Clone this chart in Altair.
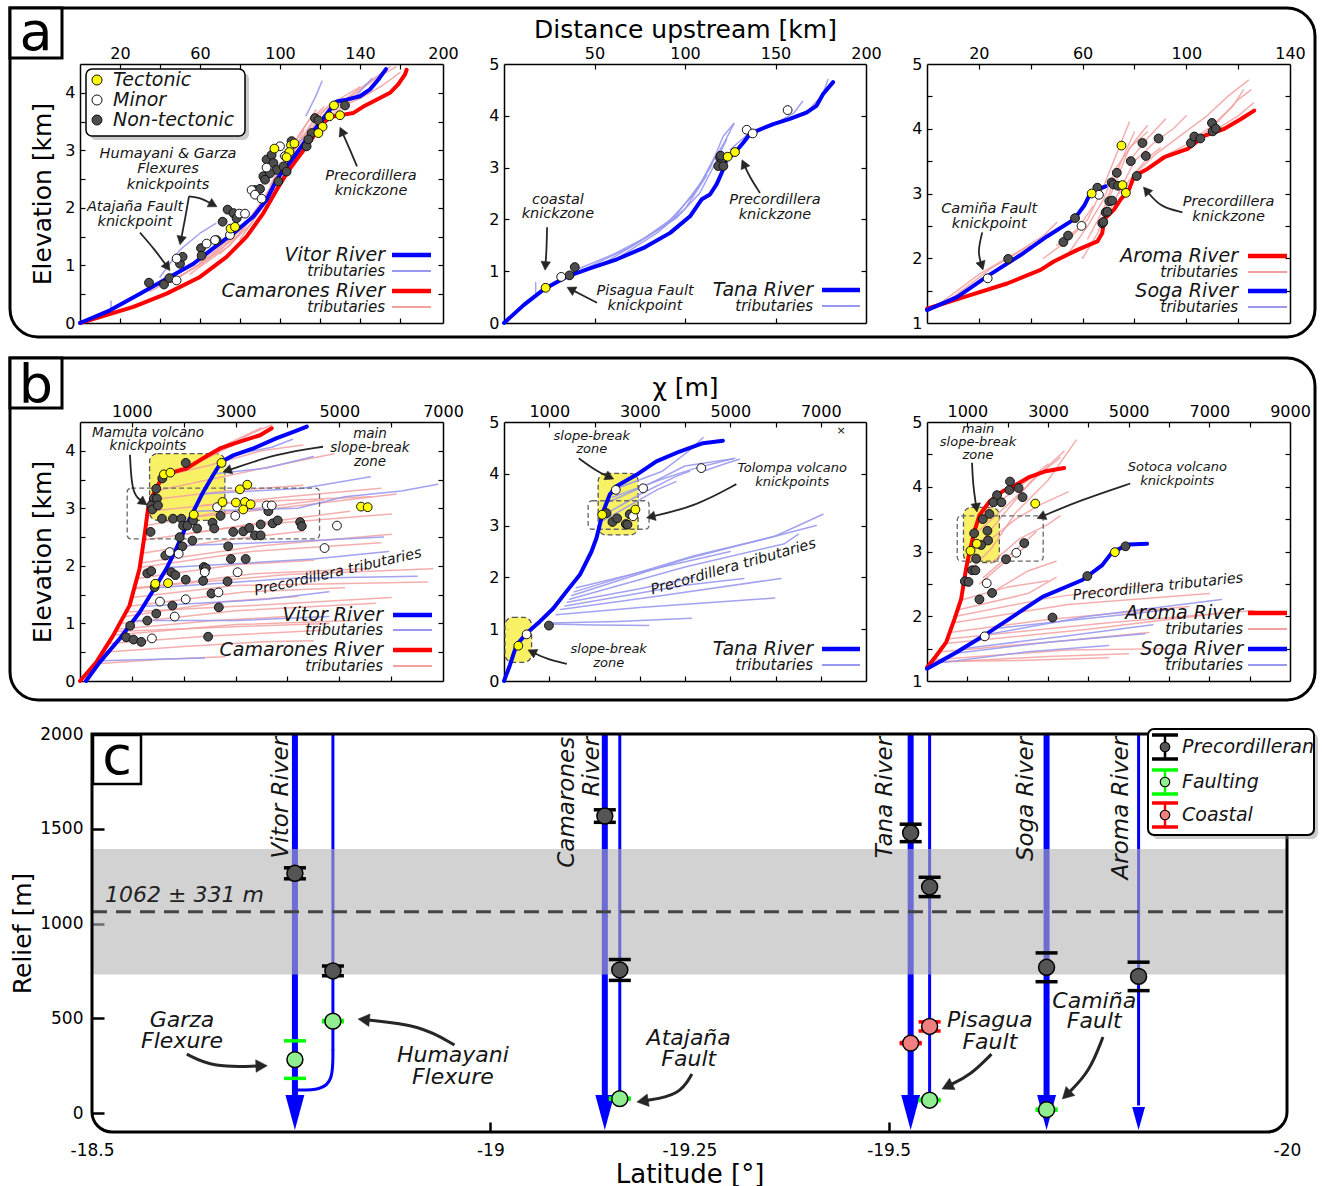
import math
import altair as alt
import pandas as pd

FONT = "DejaVu Sans"
BLUE = "#0000ff"
RED = "#ff0000"
LRED = "#f3a0a0"
LBLUE = "#9898f0"
YEL = "#ffff00"
WHITE = "#ffffff"
DARK = "#4d4d4d"
INK = "#151515"
ARROWC = "#262626"
ZONE = "#f7ef55"
ONE = pd.DataFrame({"k": [0]})

# ======================= DATA =======================
# ---- panel a1: Vitor / Camarones, elevation [km] vs distance upstream [km]
A1_VITOR = [(0, 0), (15, 0.22), (30, 0.51), (43.3, 0.77), (56.7, 1.03), (66.7, 1.30), (76.7, 1.56), (86.7, 1.85),
            (93.3, 2.14), (98.3, 2.49), (103.3, 2.72), (108.3, 2.95), (113.3, 3.19), (120, 3.48), (125, 3.71),
            (128.3, 3.85), (133.3, 3.88), (140, 3.94), (145, 4.06), (149.2, 4.23), (153, 4.41)]
A1_CAMARONES = [(0, 0), (26.7, 0.28), (43.3, 0.51), (60, 0.80), (73.3, 1.15), (83.3, 1.50), (91.7, 1.91),
                (98.3, 2.31), (103.3, 2.60), (108.3, 2.84), (113.3, 3.07), (116.7, 3.24), (120, 3.42), (125, 3.58),
                (131.7, 3.62), (136.7, 3.65), (141.7, 3.76), (148.3, 3.88), (155, 4.0), (159.2, 4.15),
                (162.5, 4.32), (163.3, 4.40)]
A1_RED_TRIBS = [
    [(35, 0.55), (60, 1.0), (80, 1.55), (95, 2.3), (105, 2.9), (115, 3.4), (125, 3.8)],
    [(45, 0.7), (65, 1.15), (85, 1.8), (98, 2.5), (110, 3.15), (120, 3.55)],
    [(55, 0.85), (75, 1.35), (90, 2.0), (102, 2.75), (112, 3.25)],
    [(70, 1.2), (85, 1.7), (100, 2.45), (110, 3.0), (118, 3.45), (128, 3.85)],
    [(60, 1.05), (80, 1.6), (92, 2.15), (104, 2.95), (114, 3.5), (122, 3.75)],
    [(90, 2.05), (100, 2.6), (108, 3.05), (118, 3.6), (130, 3.9), (140, 4.1)],
    [(100, 2.55), (112, 3.2), (125, 3.7), (135, 3.95), (145, 4.2), (155, 4.45)],
    [(118, 3.4), (128, 3.75), (138, 4.0), (148, 4.25), (158, 4.45)],
    [(125, 3.6), (135, 3.85), (145, 4.05), (150, 4.25)],
    [(130, 3.75), (140, 3.9), (150, 4.1), (160, 4.35)],
    [(80, 1.45), (95, 2.2), (105, 2.85), (112, 3.35)],
    [(50, 0.8), (70, 1.25), (88, 1.95), (96, 2.35)],
    [(108, 2.95), (116, 3.25), (122, 3.55)],
    [(95, 2.4), (103, 2.85), (110, 3.3), (118, 3.7)],
]
A1_BLUE_TRIBS = [
    [(15.5, 0.2), (15.5, 0.38)],
    [(40, 0.80), (50, 1.27), (60, 1.56), (68, 1.73)],
    [(113, 3.6), (118, 3.95), (121, 4.2)],
    [(138, 3.95), (142, 4.1), (146, 4.25)],
    [(100, 2.9), (108, 3.1), (115, 3.3)],
]
A1_TECTONIC = [(97.2, 3.03), (105.5, 3.09), (107.2, 3.12), (104.7, 2.97), (103.3, 2.88), (75.3, 1.64), (77.5, 1.67),
               (127, 3.78), (124.7, 3.59), (121.3, 3.41), (119.2, 3.30), (130, 3.61)]
A1_MINOR = [(48.3, 1.12), (48.3, 0.74), (63.3, 1.38), (67.5, 1.44), (75, 1.53), (79.7, 1.90), (82.5, 1.90),
            (85.8, 2.31), (87.5, 2.23), (90.8, 2.16), (93.3, 2.70), (102.5, 2.90), (100, 3.07)]
A1_NONTECTONIC = [(34.5, 0.70), (42, 0.67), (44.7, 0.78), (50, 1.03), (51.3, 1.15), (60.5, 1.30), (60.8, 1.17),
                  (68.3, 1.44), (71.3, 1.76), (73.8, 1.97), (76.7, 1.91), (78.3, 1.82), (87.5, 2.31), (90, 2.33),
                  (91.7, 2.55), (93.3, 2.84), (95.8, 2.92), (96.7, 2.78), (98.3, 2.66), (99.2, 2.46),
                  (101.7, 2.72), (103.3, 2.63), (105.8, 3.16), (113.3, 3.07), (115.8, 3.30), (117.5, 3.56),
                  (119.2, 3.52), (132.5, 3.78), (114.2, 3.19), (95, 2.60), (92.5, 2.49)]
A1_NOTES = [(44, 2.93, "Humayani & Garza"), (44, 2.67, "Flexures"), (44, 2.40, "knickpoints"),
            (27.5, 2.02, "Atajaña Fault"), (27.5, 1.76, "knickpoint"),
            (145.5, 2.56, "Precordillera"), (145.5, 2.30, "knickzone")]
A1_ARROWS = [[(54.5, 2.20), (52.5, 1.80), (50, 1.36)], [(54.5, 2.20), (60, 2.18), (68.5, 2.02)],
             [(30, 1.57), (37.5, 1.27), (45, 0.91)], [(138.5, 2.72), (135, 3.01), (130, 3.40)]]

# ---- panel a2: Tana
A2_TANA = [(0, 0), (11, 0.35), (22, 0.65), (34.9, 0.90), (47.8, 1.06), (62.4, 1.23), (77.1, 1.45), (91.8, 1.74),
           (102.8, 2.06), (109.3, 2.39), (113.8, 2.48), (117.5, 2.68), (120.3, 2.90), (123, 3.16), (127.6, 3.29),
           (132.2, 3.48), (135.9, 3.65), (139.6, 3.71), (148.8, 3.84), (157.9, 3.94), (167.1, 4.06),
           (172.6, 4.19), (176.3, 4.42), (181.8, 4.65)]
A2_BLUE_TRIBS = [
    [(17.5, 0.58), (17.5, 0.78)],
    [(38, 1.0), (60, 1.32), (80, 1.68), (95, 2.02), (108, 2.5), (117, 3.1), (123, 3.55)],
    [(45, 1.05), (70, 1.47), (90, 1.92), (104, 2.45), (114, 3.0), (121, 3.6), (127, 3.85)],
    [(55, 1.15), (75, 1.57), (95, 2.07), (109, 2.72), (117, 3.25)],
    [(125, 3.35), (135, 3.65), (150, 3.85), (160, 4.05), (165, 4.28)],
    [(140, 3.72), (155, 3.9), (168, 4.1), (176, 4.4), (179, 4.7)],
    [(116, 3.15), (122, 3.5), (127, 3.85)],
    [(65, 1.3), (85, 1.75), (100, 2.2), (112, 2.85)],
]
A2_TECTONIC = [(23, 0.68), (123.6, 3.21), (127.6, 3.30)]
A2_MINOR = [(31.6, 0.89), (134.1, 3.73), (137.4, 3.66), (156.7, 4.11)]
A2_NONTECTONIC = [(36.2, 0.92), (39.1, 1.08), (119.4, 3.19), (120.3, 3.10), (118.4, 3.03), (121.2, 3.03),
                  (119.7, 3.23)]
A2_NOTES = [(29.8, 2.37, "coastal"), (29.8, 2.10, "knickzone"), (77.9, 0.62, "Pisagua Fault"),
            (77.9, 0.33, "knickpoint"), (149.7, 2.37, "Precordillera"), (149.7, 2.08, "knickzone")]
A2_ARROWS = [[(23.8, 1.85), (23.5, 1.4), (22.7, 1.02)], [(51.4, 0.39), (43.1, 0.54), (34.8, 0.69)],
             [(141.4, 2.51), (135.4, 2.84), (131.5, 3.15)]]

# ---- panel a3: Aroma / Soga
A3_AROMA = [(0, 1.22), (14.2, 1.40), (30.9, 1.61), (43.8, 1.82), (48.9, 1.95), (58, 2.13), (65.7, 2.26),
            (67.6, 2.39), (68.3, 2.60), (72.1, 2.75), (74.7, 2.91), (77.9, 3.06), (79.9, 3.27), (85, 3.38),
            (91.5, 3.56), (100.5, 3.69), (106.9, 3.89), (114.7, 4.00), (121.1, 4.15), (126.2, 4.28)]
A3_SOGA = [(0, 1.20), (11.6, 1.40), (23.2, 1.72), (36.1, 2.05), (46.4, 2.34), (56.7, 2.60), (60.6, 2.81),
           (63.1, 3.01), (65.7, 3.06), (68.9, 3.11)]
A3_RED_TRIBS = [
    [(5, 1.3), (20, 1.75), (35, 2.1), (45, 2.35), (50, 2.55)],
    [(10, 1.4), (25, 1.85), (40, 2.2)],
    [(45, 2.0), (55, 2.3), (62, 2.6), (68, 3.1), (72, 3.5), (75, 3.8), (78, 4.1)],
    [(55, 2.1), (62, 2.5), (68, 2.9), (73, 3.4), (80, 3.8), (85, 4.05)],
    [(62, 2.3), (68, 2.75), (72, 3.2), (76, 3.6), (80, 3.95)],
    [(70, 2.7), (75, 3.1), (80, 3.5), (88, 3.8), (95, 4.0), (100, 4.2)],
    [(60, 2.0), (66, 2.4), (70, 2.9), (74, 3.3), (78, 3.7), (85, 3.95)],
    [(80, 3.3), (88, 3.6), (98, 3.9), (108, 4.2), (116, 4.5), (124, 4.75)],
    [(90, 3.55), (100, 3.75), (110, 4.05), (118, 4.35), (122, 4.6)],
    [(100, 3.7), (110, 3.95), (120, 4.2), (126, 4.4)],
    [(105, 3.85), (112, 4.1), (120, 4.45), (125, 4.6)],
    [(74, 3.0), (80, 3.3), (85, 3.55), (90, 3.7)],
    [(50, 2.2), (58, 2.45), (64, 2.8)],
    [(78, 3.5), (85, 3.85), (92, 4.15)],
]
A3_TECTONIC = [(75, 3.74), (63.5, 3.0), (75.4, 3.13), (76.7, 3.01)]
A3_MINOR = [(23.4, 1.69), (59.6, 2.50), (66.3, 2.98)]
A3_NONTECTONIC = [(31.3, 1.99), (52.6, 2.25), (54.4, 2.35), (57.1, 2.62), (65.7, 3.09), (67.6, 2.54), (68, 2.56),
                  (68.9, 2.71), (69.6, 2.72), (70.3, 2.88), (71.4, 2.89), (71.2, 3.17), (71.9, 3.14), (73.2, 3.32),
                  (73.7, 3.12), (78.6, 3.50), (80.9, 3.27), (83.1, 3.78), (84.4, 3.58), (89.3, 3.85),
                  (101.8, 3.78), (103.1, 3.88), (105.4, 3.85), (109.9, 4.09), (110.2, 3.96), (111.4, 4.0)]
A3_NOTES = [(24, 2.76, "Camiña Fault"), (24, 2.53, "knickpoint"), (116.3, 2.87, "Precordillera"),
            (116.3, 2.63, "knickzone")]
A3_ARROWS = [[(21.3, 2.40), (19.5, 2.1), (21.6, 1.82)], [(98.5, 2.71), (90, 2.79), (83.5, 3.10)]]

# ---- panel b1: chi plots
B1_CAMARONES = [(0, 0), (310, 0.32), (632, 0.78), (955, 1.31), (1148, 1.95), (1245, 2.53), (1310, 2.99),
                (1406, 3.23), (1503, 3.40), (1600, 3.58), (1794, 3.63), (2052, 3.69), (2374, 3.87), (2697, 4.04),
                (3084, 4.16), (3471, 4.27), (3697, 4.39)]
B1_VITOR = [(116, 0), (374, 0.32), (761, 0.73), (1148, 1.19), (1471, 1.66), (1665, 1.95), (1858, 2.30),
            (2052, 2.70), (2245, 3.05), (2374, 3.28), (2568, 3.58), (2729, 3.81), (2955, 3.92), (3342, 4.04),
            (3794, 4.22), (4116, 4.33), (4374, 4.42)]
B1_RED_TRIBS = [
    [(320, 0.3), (1600, 0.38), (2800, 0.42)], [(450, 0.5), (2000, 0.6), (3500, 0.68), (4500, 0.7)],
    [(560, 0.65), (2500, 0.78), (4700, 0.88)], [(650, 0.8), (3000, 0.98), (5300, 1.05)],
    [(720, 0.9), (2600, 1.05), (4000, 1.12)], [(800, 1.0), (3000, 1.22), (5700, 1.35)],
    [(870, 1.12), (2800, 1.38), (4200, 1.47)], [(950, 1.3), (3200, 1.55), (5100, 1.62)],
    [(1000, 1.45), (3000, 1.66), (6700, 1.72)], [(1050, 1.6), (3300, 1.86), (5500, 1.95)],
    [(1100, 1.78), (3000, 2.02), (4500, 2.1)], [(1150, 1.97), (3300, 2.25), (5800, 2.4)],
    [(1200, 2.22), (2800, 2.45), (4300, 2.6)], [(1240, 2.45), (3200, 2.7), (6000, 2.9)],
    [(1280, 2.7), (2500, 2.9), (4700, 3.15)], [(1310, 2.95), (3000, 3.1), (5600, 3.2)],
    [(1380, 3.15), (2800, 3.3), (4300, 3.4)], [(1450, 3.3), (2500, 3.5), (3800, 3.75), (4900, 3.95)],
    [(1550, 3.55), (2500, 3.75), (3500, 4.0), (4300, 4.1)], [(1800, 3.63), (2600, 3.95), (3300, 4.3), (3700, 4.45)],
    [(1650, 3.6), (2400, 3.85), (3000, 4.12)], [(2050, 3.7), (2800, 4.1), (3500, 4.4)],
    [(1160, 2.05), (3500, 2.35), (6000, 2.55)], [(1050, 1.62), (4000, 1.85), (6800, 1.95)],
    [(900, 1.2), (3500, 1.32), (6000, 1.45)], [(700, 0.86), (3200, 0.95), (4800, 1.0)],
    [(2000, 2.55), (3500, 2.75), (5200, 2.95)], [(2200, 2.85), (3800, 3.0), (6100, 3.25)],
    [(2350, 3.05), (4000, 3.2), (5800, 3.35)],
]
B1_BLUE_TRIBS = [
    [(400, 0.35), (1500, 0.38), (2400, 0.4)], [(1050, 1.05), (3000, 1.05), (4800, 1.12)],
    [(1450, 1.62), (4000, 1.78), (6500, 1.82)], [(1700, 1.97), (4500, 2.12), (5950, 2.25)],
    [(1900, 2.35), (4000, 2.42), (5850, 2.5)], [(2200, 2.95), (4200, 3.0), (5100, 3.2), (6200, 3.3), (6900, 3.42)],
    [(2350, 3.25), (4300, 3.35), (5600, 3.55)], [(2900, 3.92), (3700, 4.06), (4100, 4.2)],
    [(2600, 3.6), (3600, 3.7), (4500, 3.9)], [(1250, 1.3), (3600, 1.42), (4800, 1.55)],
]
B1_ZONE = [(1342, 2794, 2.79, 3.95)]
B1_DASH = [(910, 4619, 2.47, 3.35)]
B1_TECTONIC = [(1619, 3.59), (1742, 3.62), (2729, 3.79), (2194, 2.89), (2748, 3.11), (3084, 3.33), (3226, 3.41),
               (3006, 3.10), (3181, 3.11), (3290, 3.07), (3148, 2.98), (5419, 3.03), (5548, 3.02), (1452, 1.69),
               (1697, 1.70)]
B1_MINOR = [(2645, 3.02), (2994, 2.87), (3600, 3.05), (3697, 3.05), (4955, 2.70), (4716, 2.31), (1729, 2.24),
            (1903, 2.21), (2406, 1.89), (3039, 1.89), (1542, 1.38), (2039, 1.42), (2671, 1.54), (1826, 1.12),
            (1387, 0.74)]
B1_NONTECTONIC = [(2039, 3.79), (1587, 3.52), (1471, 3.34), (1426, 3.17), (1484, 3.17), (1374, 3.05), (1394, 2.98),
                  (1503, 3.05), (1361, 2.59), (1581, 2.82), (1794, 2.82), (1955, 2.82), (1987, 2.70), (2071, 2.70),
                  (2181, 2.79), (2258, 2.65), (2168, 2.44), (1923, 2.50), (1974, 2.34), (2555, 2.75), (2587, 2.65),
                  (2710, 2.87), (2955, 2.59), (3148, 2.60), (3265, 2.66), (3374, 2.53), (3484, 2.53), (3484, 2.72),
                  (3632, 2.95), (3716, 2.74), (3813, 2.79), (4245, 2.76), (4277, 2.69), (2858, 2.34), (2910, 2.12),
                  (3194, 2.12), (1645, 2.18), (1297, 1.87), (1374, 1.91), (1761, 1.89), (1839, 1.84), (2387, 1.98),
                  (2426, 1.96), (2039, 1.76), (2374, 1.74), (2845, 1.73), (1439, 1.63), (2535, 1.52), (1781, 1.31),
                  (1471, 1.17), (1297, 1.05), (2677, 1.28), (968, 0.96), (890, 0.76), (1032, 0.72), (1181, 0.68),
                  (2471, 0.77)]
B1_NOTES = [(1311, 4.31, "Mamuta volcano"), (1311, 4.08, "knickpoints"), (5592, 4.29, "main"),
            (5592, 4.05, "slope-break"), (5592, 3.81, "zone")]
B1_TILTED = [(4975, 1.89, "Precordillera tributaries")]
B1_ARROWS = [[(964, 3.93), (1000, 3.25), (1292, 3.06)], [(4686, 4.07), (3800, 3.95), (2757, 3.63)]]

# ---- panel b2: Tana chi
B2_TANA = [(0, 0), (132, 0.31), (279, 0.70), (500, 0.92), (794, 1.15), (1088, 1.40), (1382, 1.73), (1676, 2.05),
           (1860, 2.37), (1934, 2.50), (2044, 2.76), (2118, 3.02), (2191, 3.27), (2338, 3.60), (2485, 3.76),
           (2926, 3.98), (3368, 4.24), (3882, 4.43), (4397, 4.59), (4838, 4.64)]
B2_BLUE_TRIBS = [
    [(1000, 1.1), (2000, 1.08), (3200, 1.07)], [(1050, 1.12), (2500, 1.15), (4140, 1.21)],
    [(1150, 1.28), (3000, 1.42), (5980, 1.6)], [(1250, 1.38), (3500, 1.65), (6120, 1.98)],
    [(1350, 1.45), (4000, 1.85), (5300, 1.98)], [(1400, 1.52), (3000, 1.78), (4200, 2.0)],
    [(1450, 1.58), (4000, 2.2), (6200, 2.65), (6500, 2.83)], [(1500, 1.65), (4000, 2.35), (6000, 2.8), (7050, 3.22)],
    [(1550, 1.72), (4200, 2.42), (5800, 2.75), (6900, 3.0)], [(1600, 1.8), (3500, 2.2), (5000, 2.5)],
    [(2200, 3.2), (3000, 3.6), (3800, 3.95), (4100, 4.05)], [(2300, 3.45), (3200, 3.8), (4000, 4.15), (5060, 4.29)],
    [(2400, 3.55), (3500, 3.9), (4200, 4.1), (5100, 4.3)], [(2500, 3.72), (3500, 4.05), (4100, 4.45), (4400, 4.7)],
    [(2200, 3.1), (2800, 3.4), (3400, 3.7), (3800, 3.85)], [(4400, 4.05), (4900, 4.2), (5200, 4.28)],
]
B2_ZONE = [(2081, 2963, 2.82, 4.01), (22, 610, 0.36, 1.23)]
B2_DASH = [(1860, 3206, 2.93, 3.48)]
B2_TECTONIC = [(316, 0.68), (2169, 3.21), (2904, 3.31)]
B2_MINOR = [(500, 0.90), (2471, 3.69), (3074, 3.72), (2853, 3.18), (4360, 4.11)]
B2_NONTECTONIC = [(993, 1.07), (2265, 3.24), (2397, 3.07), (2500, 3.14), (2691, 3.03), (2728, 3.02), (2779, 3.22)]
B2_NOTES = [(1939, 4.73, "slope-break"), (1939, 4.47, "zone"), (6368, 4.11, "Tolompa volcano"),
            (6368, 3.84, "knickpoints"), (2314, 0.61, "slope-break"), (2314, 0.34, "zone")]
B2_TILTED = [(5068, 2.20, "Precordillera tributaries")]
B2_ARROWS = [[(1653, 4.30), (2049, 4.05), (2424, 3.90)], [(5134, 3.80), (4253, 3.38), (3151, 3.15)],
             [(1388, 0.33), (950, 0.42), (530, 0.60)]]
B2_MARK = [(7448, 4.83, "×")]

# ---- panel b3: Aroma / Soga chi
B3_AROMA = [(0, 1.21), (230, 1.39), (477, 1.60), (683, 1.96), (848, 2.27), (971, 2.74), (1053, 2.99),
            (1177, 3.31), (1300, 3.56), (1547, 3.77), (1876, 3.93), (2206, 4.03), (2535, 4.15), (2946, 4.24),
            (3399, 4.29)]
B3_SOGA = [(0, 1.19), (724, 1.44), (1383, 1.69), (2041, 1.96), (2864, 2.30), (3852, 2.56), (4345, 2.79),
           (4592, 2.99), (5004, 3.11), (5457, 3.12)]
B3_RED_TRIBS = [
    [(100, 1.28), (3000, 1.38), (5000, 1.42)], [(200, 1.33), (3500, 1.48), (6000, 1.5)],
    [(350, 1.45), (3000, 1.6), (5500, 1.75)], [(450, 1.58), (4000, 1.8), (7300, 2.05)],
    [(550, 1.75), (3000, 1.95), (6500, 2.15)], [(650, 1.9), (3500, 2.18), (7000, 2.35)],
    [(720, 2.0), (3000, 2.28), (5600, 2.5)], [(780, 2.1), (2500, 2.35), (3200, 2.6)],
    [(850, 2.25), (2000, 2.45), (3000, 2.55)], [(150, 1.3), (2500, 1.32), (4500, 1.36)],
    [(500, 1.65), (4500, 1.9), (8100, 2.09)],
    [(1050, 2.7), (1600, 3.05), (2200, 3.6), (3000, 4.1), (3700, 4.72)],
    [(1150, 3.0), (1800, 3.5), (2600, 4.1), (3300, 4.45)], [(1250, 3.3), (2000, 3.72), (2800, 4.2), (3400, 4.55)],
    [(1400, 3.6), (2200, 3.95), (3000, 4.35)], [(1500, 3.15), (2200, 3.5), (2800, 3.72), (3500, 3.92)],
    [(1600, 2.82), (2300, 3.2), (3000, 3.42), (3300, 3.55)], [(1400, 2.6), (2000, 2.92), (2700, 3.3)],
    [(1700, 2.4), (2500, 2.7), (3200, 2.85)], [(1300, 2.5), (1900, 2.82), (2500, 3.1)],
]
B3_BLUE_TRIBS = [
    [(600, 1.42), (3000, 1.6), (5400, 1.73)], [(900, 1.5), (3500, 1.7), (5600, 1.87)],
    [(1500, 1.72), (4000, 2.0), (7300, 2.26)], [(1800, 1.82), (4500, 2.0), (6000, 2.1)],
    [(300, 1.28), (2500, 1.45), (4500, 1.55)],
]
B3_ZONE = [(905, 1794, 2.83, 3.68)]
B3_DASH = [(749, 2881, 2.85, 3.55)]
B3_TECTONIC = [(1078, 3.01), (1235, 3.12), (2683, 3.74), (4658, 2.99)]
B3_MINOR = [(1481, 2.51), (2214, 2.98), (1432, 1.69)]
B3_NONTECTONIC = [(2058, 4.08), (2041, 3.95), (2271, 3.98), (2370, 3.84), (1737, 3.87), (1646, 3.76), (1844, 3.76),
                  (1383, 3.50), (1547, 3.58), (1498, 3.32), (1169, 3.28), (1514, 3.17), (1342, 3.10), (1218, 2.89),
                  (1119, 2.71), (1201, 2.71), (938, 2.54), (1029, 2.53), (1300, 2.26), (1613, 2.36), (1959, 2.88),
                  (2411, 3.13), (3111, 1.98), (3975, 2.62), (4921, 3.08)]
B3_NOTES = [(1265, 4.89, "main"), (1265, 4.69, "slope-break"), (1265, 4.49, "zone"),
            (6206, 4.31, "Sotoca volcano"), (6206, 4.09, "knickpoints")]
B3_TILTED = [(5728, 2.45, "Precordillera tributaries")]
B3_ARROWS = [[(1116, 4.37), (1142, 4.02), (1240, 3.61)], [(5039, 4.05), (3798, 3.79), (2731, 3.51)]]

# ---- panel c: relief [m] vs latitude [deg]
C_MAIN_LAT = [-18.7547, -19.1437, -19.5276, -19.6982]          # Vitor, Camarones, Tana, Soga
C_TRIB_LAT = [-18.8024, -19.1625, -19.5514, -19.8137]          # Vitor trib., Camarones trib., Tana trib., Aroma
C_TRIB_BOTTOM = [330, 76, 68, 40]
C_TOP = 2000
C_MAIN_BOTTOM = 80
C_VITOR_LINK = [(-18.8024, 332), (-18.8024, 170), (-18.787, 122), (-18.7572, 121)]
C_PRECORD = [(-18.7547, 1265, 29), (-18.8024, 750, 26), (-19.1437, 1567, 33), (-19.1625, 755, 55),
             (-19.5276, 1478, 46), (-19.5514, 1193, 51), (-19.6982, 769, 76), (-19.8137, 721, 75)]
C_FAULT = [(-18.7547, 282, 99), (-18.8024, 485, 3), (-19.1625, 76, 3), (-19.5514, 68, 3), (-19.6982, 18, 3)]
C_COASTAL = [(-19.5276, 369, 3), (-19.5514, 457, 24)]
C_MEAN, C_STD = 1062, 331
C_RIVER_LABELS = [(-18.737, "Vitor River"), (-19.096, "Camarones"), (-19.127, "River"),
                  (-19.496, "Tana River"), (-19.673, "Soga River"), (-19.792, "Aroma River")]
C_NOTES = [(-18.613, 491, "Garza"), (-18.613, 380, "Flexure"), (-18.953, 306, "Humayani"),
           (-18.953, 190, "Flexure"), (-19.249, 396, "Atajaña"), (-19.249, 285, "Fault"),
           (-19.627, 491, "Pisagua"), (-19.627, 375, "Fault"), (-19.758, 591, "Camiña"), (-19.758, 485, "Fault")]
C_ARROWS = [[(-18.619, 311), (-18.652, 240), (-18.72, 250)], [(-18.955, 359), (-18.912, 464), (-18.834, 496)],
            [(-19.253, 206), (-19.238, 95), (-19.184, 58)], [(-19.629, 311), (-19.603, 201), (-19.567, 127)],
            [(-19.769, 401), (-19.752, 216), (-19.718, 74)]]
C_XLABELS = [-18.5, -19, -19.25, -19.5, -20]
C_YLABELS = [0, 500, 1000, 1500, 2000]

ARROW_HEAD = "M0,0L-0.55,1L0.55,1Z"


# ======================= HELPERS =======================
class P:
    def __init__(self, w, h, xd, yd):
        self.w, self.h, self.xd, self.yd = w, h, xd, yd
        self.xs = alt.Scale(domain=list(xd), nice=False, zero=False)
        self.ys = alt.Scale(domain=list(yd), nice=False, zero=False)
        self.kx = w / (xd[1] - xd[0])
        self.ky = h / (yd[1] - yd[0])

    def X(self, f="x"):
        return alt.X(f"{f}:Q", scale=self.xs, axis=None)

    def Y(self, f="y"):
        return alt.Y(f"{f}:Q", scale=self.ys, axis=None)


def lines_df(lines):
    rows = []
    for i, pts in enumerate(lines):
        for j, (x, y) in enumerate(pts):
            rows.append({"id": i, "o": j, "x": x, "y": y})
    return pd.DataFrame(rows)


def line_layer(p, lines, color, width, opacity=1.0, interp="linear"):
    return alt.Chart(lines_df(lines)).mark_line(
        color=color, strokeWidth=width, opacity=opacity, interpolate=interp,
        strokeJoin="round", strokeCap="round").encode(x=p.X(), y=p.Y(), detail="id:N", order="o:Q")


def pts_layer(p, data, fill, size=78):
    df = pd.DataFrame(data, columns=["x", "y"])
    return alt.Chart(df).mark_circle(fill=fill, stroke="#111111", strokeWidth=1, size=size, opacity=1).encode(
        x=p.X(), y=p.Y())


def knick_layers(p, tect, minor, nont):
    return [pts_layer(p, nont, DARK), pts_layer(p, minor, WHITE), pts_layer(p, tect, YEL)]


def notes(p, items, size=14.5, angle=0):
    df = pd.DataFrame(items, columns=["x", "y", "t"])
    return alt.Chart(df).mark_text(font=FONT, fontSize=size, fontStyle="italic", align="center",
                                   baseline="middle", angle=angle, color=INK).encode(x=p.X(), y=p.Y(), text="t:N")


def arrows(p, arrs, width=1.8, head=300):
    rows, heads = [], []
    L = math.sqrt(head) / 2.0
    for i, pts in enumerate(arrs):
        (x0, y0), (x1, y1) = pts[-2], pts[-1]
        dx = (x1 - x0) * p.kx
        dy = -(y1 - y0) * p.ky
        n = math.hypot(dx, dy) or 1.0
        ux, uy = dx / n, dy / n
        ang = math.degrees(math.atan2(dx, -dy)) % 360
        back = 0.7 * L
        end = (x1 - ux * back / p.kx, y1 + uy * back / p.ky)
        path = list(pts[:-1]) + [end]
        for j, (x, y) in enumerate(path):
            rows.append({"id": i, "o": j, "x": x, "y": y})
        heads.append({"x": x1, "y": y1, "a": ang})
    line = alt.Chart(pd.DataFrame(rows)).mark_line(color=ARROWC, strokeWidth=width, interpolate="basis").encode(
        x=p.X(), y=p.Y(), detail="id:N", order="o:Q")
    hd = alt.Chart(pd.DataFrame(heads)).mark_point(shape=ARROW_HEAD, filled=True, fill=ARROWC, stroke=ARROWC,
                                                   strokeWidth=0.5, size=head, opacity=1).encode(
        x=p.X(), y=p.Y(), angle=alt.Angle("a:Q", scale=None))
    return [line, hd]


def box_layer(p, boxes, fill, fill_op, stroke, radius):
    df = pd.DataFrame(boxes, columns=["x", "x2", "y", "y2"])
    return alt.Chart(df).mark_rect(fill=fill, fillOpacity=fill_op, stroke=stroke, strokeWidth=1.3,
                                   strokeDash=[5, 3], cornerRadius=radius).encode(
        x=p.X("x"), x2="x2:Q", y=p.Y("y"), y2="y2:Q")


def pix_rect(x, x2, y, y2, **kw):
    return alt.Chart(ONE).mark_rect(**kw).encode(x=alt.value(x), x2=alt.value(x2), y=alt.value(y), y2=alt.value(y2))


def pix_text(x, y, text, **kw):
    return alt.Chart(ONE).mark_text(text=text, **kw).encode(x=alt.value(x), y=alt.value(y))


def pix_hline(x, x2, y, **kw):
    return alt.Chart(ONE).mark_rule(**kw).encode(x=alt.value(x), x2=alt.value(x2), y=alt.value(y))


def pix_vline(x, y, y2, **kw):
    return alt.Chart(ONE).mark_rule(**kw).encode(x=alt.value(x), y=alt.value(y), y2=alt.value(y2))


def pix_dot(x, y, **kw):
    return alt.Chart(ONE).mark_circle(**kw).encode(x=alt.value(x), y=alt.value(y))


def river_legend(x_text, x0, x1, entries):
    out = []
    for y, t, big, col in entries:
        out.append(pix_text(x_text, y, t, font=FONT, fontSize=19 if big else 15, fontStyle="italic",
                            align="right", baseline="middle", color=INK))
        out.append(pix_hline(x0, x1, y, color=col, strokeWidth=4.5 if big else 1.8))
    return out


def kp_legend():
    out = [pix_rect(10, 169, 9, 76, fill="#8c8c8c", opacity=0.45, cornerRadius=6),
           pix_rect(6, 165, 5, 72, fill="white", stroke="black", strokeWidth=1.5, cornerRadius=6)]
    for y, col, lab in [(16, YEL, "Tectonic"), (36, WHITE, "Minor"), (56, DARK, "Non-tectonic")]:
        out.append(pix_dot(17, y, fill=col, stroke="#111111", strokeWidth=1, size=100, opacity=1))
        out.append(pix_text(33, y, lab, font=FONT, fontSize=19, fontStyle="italic", align="left",
                            baseline="middle", color=INK))
    return out


def axis_layers(p, xlab, xtk, ylab, ytk, ytitle=None, xtitle=None,
                xexpr="format(datum.value, 'd')", lab_size=16, tick=5):
    d = pd.DataFrame({"x": [p.xd[0]], "y": [p.yd[0]]})
    base = alt.Chart(d).mark_point(opacity=0)
    xl = dict(orient="top", values=xlab, ticks=False, domain=False, labelFontSize=lab_size, labelPadding=3,
              labelFlush=False, labelOverlap=False, labelExpr=xexpr, grid=False, title=xtitle)
    if xtitle:
        xl.update(titleFontSize=25, titleFontWeight="normal", titlePadding=3)
    yl = dict(orient="left", values=ylab, ticks=False, domain=False, labelFontSize=lab_size, labelPadding=5,
              labelFlush=False, labelOverlap=False, format="d", grid=False, title=ytitle)
    if ytitle:
        yl.update(titleFontSize=25, titleFontWeight="normal", titlePadding=9)
    lab = base.encode(x=alt.X("x:Q", scale=p.xs, axis=alt.Axis(**xl)),
                      y=alt.Y("y:Q", scale=p.ys, axis=alt.Axis(**yl)))
    b1 = base.encode(
        x=alt.X("x:Q", scale=p.xs, axis=alt.Axis(orient="bottom", offset=-p.h, values=xtk, labels=False,
                                                 tickSize=tick, domain=True, grid=False, title=None)),
        y=alt.Y("y:Q", scale=p.ys, axis=alt.Axis(orient="right", offset=-p.w, values=ytk, labels=False,
                                                 tickSize=tick, domain=True, grid=False, title=None)))
    b2 = base.encode(
        x=alt.X("x:Q", scale=p.xs, axis=alt.Axis(orient="top", offset=-p.h, values=xtk, labels=False,
                                                 tickSize=tick, domain=True, grid=False, title=None)),
        y=alt.Y("y:Q", scale=p.ys, axis=alt.Axis(orient="left", offset=-p.w, values=ytk, labels=False,
                                                 tickSize=tick, domain=True, grid=False, title=None)))
    return [lab, b1, b2]


def panel(p, layers):
    return alt.layer(*layers).resolve_axis(x="independent", y="independent").properties(width=p.w, height=p.h)


def row_frame(top, bottom, label, label_y):
    return [pix_rect(-80, 1242, -64, 292, opacity=0),
            pix_rect(-70, 1235, top, bottom, fill="white", fillOpacity=0, stroke="black", strokeWidth=3,
                     cornerRadius=28, cornerRadiusTopLeft=0),
            pix_rect(-70, -18, top, top + 50, fill="white", stroke="black", strokeWidth=3),
            pix_text(-44, label_y, label, font=FONT, fontSize=54, align="center", baseline="middle",
                     color="black")]


# ======================= ROW a =======================
pa1 = P(363, 259, [0, 181.5], [0, 4.5])
a1 = panel(pa1, row_frame(-56, 273, "a", -30) + [
    line_layer(pa1, A1_RED_TRIBS, LRED, 1.5, 0.85),
    line_layer(pa1, A1_BLUE_TRIBS, LBLUE, 1.5, 0.9),
    line_layer(pa1, [A1_CAMARONES], RED, 4),
    line_layer(pa1, [A1_VITOR], BLUE, 4),
    *knick_layers(pa1, A1_TECTONIC, A1_MINOR, A1_NONTECTONIC),
    notes(pa1, A1_NOTES),
    *arrows(pa1, A1_ARROWS),
    *kp_legend(),
    *river_legend(305, 312, 351, [(191, "Vitor River", True, BLUE), (207, "tributaries", False, LBLUE),
                                  (227, "Camarones River", True, RED), (243, "tributaries", False, LRED)]),
    *axis_layers(pa1, [20, 60, 100, 140, 181.5], [20, 40, 60, 80, 100, 120, 140, 160], [0, 1, 2, 3, 4],
                 [0.5, 1, 1.5, 2, 2.5, 3, 3.5, 4], ytitle="Elevation  [km]",
                 xexpr="datum.value > 180 ? '200' : format(datum.value, 'd')"),
])

pa2 = P(362, 259, [0, 200], [0, 5])
a2 = panel(pa2, [
    line_layer(pa2, A2_BLUE_TRIBS, LBLUE, 1.5, 0.9),
    line_layer(pa2, [A2_TANA], BLUE, 4),
    *knick_layers(pa2, A2_TECTONIC, A2_MINOR, A2_NONTECTONIC),
    notes(pa2, A2_NOTES),
    *arrows(pa2, A2_ARROWS),
    *river_legend(309, 318, 356, [(226, "Tana River", True, BLUE), (242, "tributaries", False, LBLUE)]),
    *axis_layers(pa2, [50, 100, 150, 200], [50, 100, 150], [0, 1, 2, 3, 4, 5], [1, 2, 3, 4],
                 xtitle="Distance upstream [km]"),
])

pa3 = P(363, 259, [0, 140], [1, 5])
a3 = panel(pa3, [
    line_layer(pa3, A3_RED_TRIBS, LRED, 1.5, 0.85),
    line_layer(pa3, [A3_AROMA], RED, 4),
    line_layer(pa3, [A3_SOGA], BLUE, 4),
    *knick_layers(pa3, A3_TECTONIC, A3_MINOR, A3_NONTECTONIC),
    notes(pa3, A3_NOTES),
    *arrows(pa3, A3_ARROWS),
    *river_legend(311, 321, 360, [(192, "Aroma River", True, RED), (208, "tributaries", False, LRED),
                                  (227, "Soga River", True, BLUE), (243, "tributaries", False, LBLUE)]),
    *axis_layers(pa3, [20, 60, 100, 140], [20, 40, 60, 80, 100, 120], [1, 2, 3, 4, 5],
                 [1.5, 2, 2.5, 3, 3.5, 4, 4.5]),
])

# ======================= ROW b =======================
pb1 = P(363, 259, [0, 7000], [0, 4.5])
b1 = panel(pb1, row_frame(-64, 278, "b", -35) + [
    box_layer(pb1, B1_ZONE, ZONE, 0.9, "#555555", 8),
    line_layer(pb1, B1_RED_TRIBS, LRED, 1.5, 0.85),
    line_layer(pb1, B1_BLUE_TRIBS, LBLUE, 1.5, 0.9),
    box_layer(pb1, B1_DASH, "white", 0, "#666666", 4),
    line_layer(pb1, [B1_CAMARONES], RED, 4),
    line_layer(pb1, [B1_VITOR], BLUE, 4),
    *knick_layers(pb1, B1_TECTONIC, B1_MINOR, B1_NONTECTONIC),
    notes(pb1, B1_NOTES, size=13.5),
    notes(pb1, B1_TILTED, size=14.5, angle=347),
    *arrows(pb1, B1_ARROWS),
    *river_legend(303, 313, 352, [(193, "Vitor River", True, BLUE), (208, "tributaries", False, LBLUE),
                                  (228, "Camarones River", True, RED), (244, "tributaries", False, LRED)]),
    *axis_layers(pb1, [1000, 3000, 5000, 7000], [1000, 2000, 3000, 4000, 5000, 6000], [0, 1, 2, 3, 4],
                 [0.5, 1, 1.5, 2, 2.5, 3, 3.5, 4], ytitle="Elevation  [km]"),
])

pb2 = P(362, 259, [0, 8000], [0, 5])
b2 = panel(pb2, [
    box_layer(pb2, B2_ZONE, ZONE, 0.9, "#555555", 8),
    line_layer(pb2, B2_BLUE_TRIBS, LBLUE, 1.5, 0.9),
    box_layer(pb2, B2_DASH, "white", 0, "#666666", 4),
    line_layer(pb2, [B2_TANA], BLUE, 4),
    *knick_layers(pb2, B2_TECTONIC, B2_MINOR, B2_NONTECTONIC),
    notes(pb2, B2_NOTES, size=13),
    notes(pb2, B2_TILTED, size=14.5, angle=344),
    notes(pb2, B2_MARK, size=11),
    *arrows(pb2, B2_ARROWS),
    *river_legend(309, 318, 356, [(227, "Tana River", True, BLUE), (243, "tributaries", False, LBLUE)]),
    *axis_layers(pb2, [1000, 3000, 5000, 7000], [1000, 2000, 3000, 4000, 5000, 6000, 7000],
                 [0, 1, 2, 3, 4, 5], [1, 2, 3, 4], xtitle="χ [m]"),
])

pb3 = P(363, 259, [0, 9000], [1, 5])
b3 = panel(pb3, [
    box_layer(pb3, B3_ZONE, ZONE, 0.9, "#555555", 8),
    line_layer(pb3, B3_RED_TRIBS, LRED, 1.5, 0.85),
    line_layer(pb3, B3_BLUE_TRIBS, LBLUE, 1.5, 0.9),
    box_layer(pb3, B3_DASH, "white", 0, "#666666", 4),
    line_layer(pb3, [B3_AROMA], RED, 4),
    line_layer(pb3, [B3_SOGA], BLUE, 4),
    *knick_layers(pb3, B3_TECTONIC, B3_MINOR, B3_NONTECTONIC),
    notes(pb3, B3_NOTES, size=13),
    notes(pb3, B3_TILTED, size=14.5, angle=354),
    *arrows(pb3, B3_ARROWS),
    *river_legend(316, 321, 360, [(191, "Aroma River", True, RED), (207, "tributaries", False, LRED),
                                  (227, "Soga River", True, BLUE), (243, "tributaries", False, LBLUE)]),
    *axis_layers(pb3, [1000, 3000, 5000, 7000, 9000], [1000, 2000, 3000, 4000, 5000, 6000, 7000, 8000],
                 [1, 2, 3, 4, 5], [1.5, 2, 2.5, 3, 3.5, 4, 4.5]),
])

# ======================= ROW c =======================
# the view starts 12 px left of the -18.5 border so that all three rows share the same left origin
C_PAD = 12
C_PX_PER_DEG = 1195 / 1.5
pc = P(1195 + C_PAD, 398, [-18.5 + C_PAD / C_PX_PER_DEG, -20], [-100, 2000])

main_df = pd.DataFrame({"x": C_MAIN_LAT, "top": C_TOP, "bot": C_MAIN_BOTTOM})
trib_df = pd.DataFrame({"x": C_TRIB_LAT, "top": C_TOP, "bot": C_TRIB_BOTTOM})
main_lines = alt.Chart(main_df).mark_rule(color=BLUE, strokeWidth=6).encode(x=pc.X(), y=pc.Y("top"), y2="bot:Q")
trib_lines = alt.Chart(trib_df).mark_rule(color=BLUE, strokeWidth=3).encode(x=pc.X(), y=pc.Y("top"), y2="bot:Q")
link = line_layer(pc, [C_VITOR_LINK], BLUE, 3, 1.0, "basis")
heads_big = alt.Chart(pd.DataFrame({"x": C_MAIN_LAT, "y": 3})).mark_point(
    shape="M-0.54,-1L0.54,-1L0,1Z", filled=True, fill=BLUE, strokeWidth=0, size=1225, opacity=1).encode(
    x=pc.X(), y=pc.Y())
heads_small = alt.Chart(pd.DataFrame({"x": [C_TRIB_LAT[-1]], "y": [-29]})).mark_point(
    shape="M-0.56,-1L0.56,-1L0,1Z", filled=True, fill=BLUE, strokeWidth=0, size=529, opacity=1).encode(
    x=pc.X(), y=pc.Y())
band = alt.Chart(pd.DataFrame({"x": [-18.5], "x2": [-20], "y": [C_MEAN - C_STD], "y2": [C_MEAN + C_STD]})).mark_rect(
    fill="#b4b4b4", opacity=0.6).encode(x=pc.X("x"), x2="x2:Q", y=pc.Y("y"), y2="y2:Q")
mean_line = alt.Chart(pd.DataFrame({"x": [-18.5], "x2": [-20], "y": [C_MEAN]})).mark_rule(
    color="#444444", strokeWidth=3, strokeDash=[15, 9]).encode(x=pc.X("x"), x2="x2:Q", y=pc.Y("y"))
mean_text = alt.Chart(pd.DataFrame({"x": [-18.5163], "y": [1152], "t": [f"{C_MEAN} ± {C_STD} m"]})).mark_text(
    font=FONT, fontSize=22, fontStyle="italic", align="left", baseline="middle", color="#222222").encode(
    x=pc.X(), y=pc.Y(), text="t:N")


def err_layers(data, cap_color, fill):
    df = pd.DataFrame(data, columns=["x", "y", "e"])
    df["lo"] = df["y"] - df["e"]
    df["hi"] = df["y"] + df["e"]
    caps = [alt.Chart(df).mark_tick(orient="horizontal", size=22, thickness=3.5, color=cap_color, opacity=1).encode(
        x=pc.X(), y=pc.Y(f)) for f in ("lo", "hi")]
    dots = alt.Chart(df).mark_circle(fill=fill, stroke="black", strokeWidth=1.5, size=254, opacity=1).encode(
        x=pc.X(), y=pc.Y())
    return caps + [dots]


river_text = alt.Chart(pd.DataFrame(C_RIVER_LABELS, columns=["x", "t"]).assign(y=1985)).mark_text(
    font=FONT, fontSize=23, fontStyle="italic", align="right", baseline="middle", angle=270, color=INK).encode(
    x=pc.X(), y=pc.Y(), text="t:N")


def c_legend():
    o = C_PAD
    out = [pix_rect(o + 1060, o + 1226, -1, 105, fill="#8c8c8c", opacity=0.45, cornerRadius=6),
           pix_rect(o + 1056, o + 1222, -5, 101, fill="white", stroke="black", strokeWidth=2, cornerRadius=6)]
    for yc, lab, cap, fill in [(13, "Precordilleran", "black", "#555555"), (48, "Faulting", "#00ff00", "#90ee90"),
                               (81, "Coastal", "#ff0000", "#f08080")]:
        out.append(pix_vline(o + 1073, yc - 12, yc + 12, color=cap, strokeWidth=2.5))
        out.append(pix_hline(o + 1060, o + 1086, yc - 12, color=cap, strokeWidth=3.5))
        out.append(pix_hline(o + 1060, o + 1086, yc + 12, color=cap, strokeWidth=3.5))
        out.append(pix_dot(o + 1073, yc, fill=fill, stroke="black", strokeWidth=1.2, size=90, opacity=1))
        out.append(pix_text(o + 1090, yc, lab, font=FONT, fontSize=19, fontStyle="italic", align="left",
                            baseline="middle", color=INK))
    return out


def c_axes(p):
    d = pd.DataFrame({"x": [p.xd[0]], "y": [p.yd[0]]})
    base = alt.Chart(d).mark_point(opacity=0)
    lab = base.encode(
        x=alt.X("x:Q", scale=p.xs, axis=alt.Axis(
            orient="bottom", values=C_XLABELS, ticks=False, domain=False, labelFontSize=17, labelPadding=10,
            labelFlush=False, labelOverlap=False, labelExpr="'-' + format(abs(datum.value), '~g')",
            title="Latitude [°]", titleFontSize=26, titleFontWeight="normal", titlePadding=3,
            titleX=C_PAD + 1195 / 2, grid=False)),
        y=alt.Y("y:Q", scale=p.ys, axis=alt.Axis(
            orient="left", offset=-C_PAD, values=C_YLABELS, ticks=False, domain=False, labelFontSize=17,
            labelPadding=9, labelFlush=False, labelOverlap=False, format="d", title="Relief [m]", titleFontSize=25,
            titleFontWeight="normal", titlePadding=4, grid=False)))
    tk = base.encode(
        x=alt.X("x:Q", scale=p.xs, axis=alt.Axis(orient="top", offset=-p.h, values=[-19, -19.5], labels=False,
                                                 domain=False, tickSize=10, tickWidth=2.5, grid=False, title=None)),
        y=alt.Y("y:Q", scale=p.ys, axis=alt.Axis(orient="right", offset=-(p.w - C_PAD), values=[0, 500, 1000, 1500],
                                                 labels=False, domain=False, tickSize=12, tickWidth=2.5, grid=False,
                                                 title=None)))
    return [lab, tk]


c = panel(pc, [
    pix_rect(-80, 1242, -20, 454, opacity=0),
    main_lines, trib_lines, link, heads_big, heads_small,
    band, mean_line, mean_text,
    *err_layers(C_PRECORD, "black", "#555555"),
    *err_layers(C_FAULT, "#00ff00", "#90ee90"),
    *err_layers(C_COASTAL, "#ff0000", "#f08080"),
    river_text,
    notes(pc, C_NOTES, size=22),
    *arrows(pc, C_ARROWS, width=3, head=520),
    pix_rect(C_PAD, C_PAD + 1195, 0, 398, fill="white", fillOpacity=0, stroke="black", strokeWidth=3,
             cornerRadiusBottomLeft=20, cornerRadiusBottomRight=20),
    pix_rect(C_PAD + 1, C_PAD + 49, 1, 50, fill="white", stroke="black", strokeWidth=2.5),
    pix_text(C_PAD + 25, 24, "c", font=FONT, fontSize=54, align="center", baseline="middle", color="black"),
    *c_legend(),
    *c_axes(pc),
])

row_a = alt.hconcat(a1, a2, a3, spacing=61, bounds="flush")
row_b = alt.hconcat(b1, b2, b3, spacing=61, bounds="flush")

chart = alt.vconcat(row_a, row_b, c, spacing=0, bounds="full", padding=0, background="white").configure_view(
    stroke=None).configure_axis(
    domainColor="black", tickColor="black", labelColor="black", titleColor="black", labelFont=FONT,
    titleFont=FONT, domainWidth=1.5, tickWidth=1.2)

chart.save("out.html", embed_options={"renderer": "svg", "actions": False})
